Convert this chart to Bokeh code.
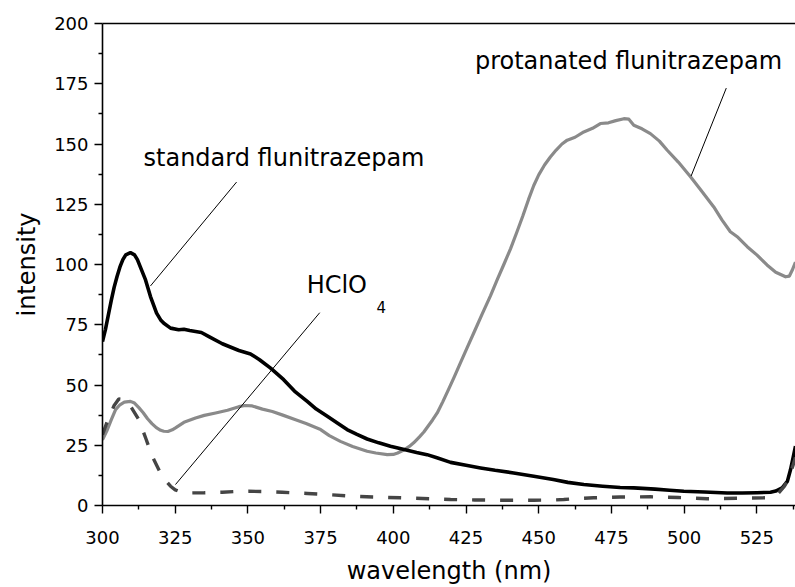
from bokeh.plotting import figure
from bokeh.models import Range1d, LinearAxis, FixedTicker
from bokeh.core.properties import value
from bokeh.embed import file_html
from bokeh.resources import INLINE

# Emission spectra: wavelength (nm) vs. intensity
std_wl = [300, 301, 302, 303, 304, 305, 306, 307, 308, 309.6, 311, 312, 313, 314.8, 316.5,
          318.6, 320, 321.1, 323.4, 326.2, 328, 330,
          332, 334, 336.6, 341.2, 346.9, 350.9, 354, 357.8, 362.3, 366, 370.4, 373.5, 377.3,
          381, 384.1, 387.5, 391, 395, 399, 404.8, 408, 411.6, 415, 419.7, 425, 430, 435,
          441.4, 448.3, 455, 460, 465.5, 472, 478, 482.7, 490, 495, 499.9, 507, 514.8, 520,
          525, 529.7, 531.5, 533.7, 535.5, 536.6, 537.5, 538.3]
std_int = [68, 73, 79, 85, 90.5, 95, 99, 102, 104, 104.9, 104, 102, 99, 93.6, 86.7,
           79.8, 77, 75.6, 73.6, 72.9, 73.1, 72.6,
           72.2, 71.8, 70.1, 67.1, 64.3, 62.9, 60.5, 57.0, 52.2, 47.5, 43.2, 40.0, 37.0,
           34.0, 31.5, 29.5, 27.6, 26.0, 24.6, 22.9, 22.0, 21.1, 19.8, 17.9, 16.7, 15.6, 14.6,
           13.5, 12.1, 10.8, 9.6, 8.7, 8.0, 7.5, 7.3, 6.8, 6.3, 5.9, 5.6, 5.2, 5.2,
           5.3, 5.5, 6.0, 7.3, 10.0, 14.9, 20.0, 24.6]

prot_wl = [300, 301.5, 303, 304.5, 306, 307.5, 309.6, 311, 312.5, 314, 315.5, 317, 318.5, 320,
           321.1, 322.5, 324, 325.1, 328, 332, 335,
           338.9, 343, 346.9, 349, 351.5, 355, 358.4, 362, 366.4, 370, 375, 378, 381.8, 386,
           391, 394, 397.9, 400, 401.5, 403.6, 405.5, 407, 409, 410.5, 412, 413.5, 415.1,
           417, 419, 421, 423, 425.4, 428, 430.5, 433.4, 435.7, 438, 440.3, 442.5,
           444.5, 446.5, 448.3, 450, 452, 454, 456, 458, 459.8, 462.5, 465.5, 468.5, 471.2,
           474, 476.5, 479.3, 481, 482.7, 485.5, 488.4, 491.5, 494.2, 498, 502.2, 506, 510.2,
           513, 515.9, 518.5, 521.7, 525, 528.5, 531.5, 534.9, 536.2, 537.2, 538.3]
prot_int = [27.3, 31, 35.5, 39.8, 41.8, 42.9, 43.2, 42.5, 40.6, 38.5, 36, 34, 32.3, 31.2,
            30.8, 30.7, 31.4, 32.2, 34.5, 36.3, 37.4,
            38.4, 39.5, 41.0, 41.5, 41.3, 40.0, 39.0, 37.5, 35.6, 34.0, 31.5, 29.0, 26.6, 24.5,
            22.5, 21.8, 21.1, 21.2, 21.8, 23.0, 24.5, 26, 28.5, 30.5, 33, 35.5, 38.4,
            43, 48.2, 53.5, 59, 65.5, 72.5, 79.3, 87, 93.6, 100, 106.5, 113.5,
            120, 127, 132.8, 137.2, 141.3, 144.6, 147.5, 150, 151.6, 152.8, 155.0, 156.5, 158.5,
            158.8, 159.7, 160.5, 160.3, 157.8, 156.3, 154.3, 151.2, 147.4, 142.5, 136.4, 130.5, 123.9,
            118.5, 113.6, 111.3, 107.4, 104, 99.8, 96.8, 94.9, 95.2, 97.7, 101]

acid_wl = [300, 302, 304, 305.6, 307.9, 310, 312.5, 315, 317.1, 320.5, 323.4, 325, 327, 329.7,
           335, 341.2, 346, 350.3, 355, 361.8, 370.4, 378, 385.3, 393, 402.5, 410, 419.7, 428,
           436.9, 448.3, 455, 458.6, 463, 468.9, 478, 488.4, 498, 507.9, 518, 528.5, 532, 534.5,
           536.5, 538.3]
acid_int = [29.4, 36, 41.5, 44.2, 43.9, 40.5, 35.6, 27.5, 20.4, 12.1, 8.0, 6.5, 5.6, 5.2,
            5.3, 5.5, 5.8, 5.9, 5.8, 5.5, 5.0, 4.5, 3.9, 3.5, 3.2, 2.9, 2.5, 2.3,
            2.2, 2.2, 2.3, 2.5, 2.9, 3.2, 3.5, 3.6, 3.3, 2.8, 3.0, 3.2, 4.5, 8.0,
            13.0, 20.0]

x_ticks = [300, 325, 350, 375, 400, 425, 450, 475, 500, 525]
y_ticks = [0, 25, 50, 75, 100, 125, 150, 175, 200]

FONT = "DejaVu Sans"

p = figure(width=795, height=587, output_backend="svg", toolbar_location=None,
           x_range=Range1d(300, 538.3), y_range=Range1d(0, 200),
           min_border_left=102, min_border_right=0, min_border_top=23, min_border_bottom=81)
p.background_fill_color = "white"
p.border_fill_color = "white"
p.outline_line_color = None
p.grid.visible = False

# curves
p.line(prot_wl, prot_int, line_color="#8a8a8a", line_width=3.2, line_join="round")
p.line(std_wl, std_int, line_color="black", line_width=3.6, line_join="round")
p.line(acid_wl, acid_int, line_color="#454545", line_width=3.4, line_dash="13 15")

# leader lines from labels to curves
p.segment(x0=[346.1, 374.7, 514.5], y0=[134.2, 80.0, 173.2],
          x1=[316.5, 325.1, 502.4], y1=[91.1, 8.7, 136.7],
          line_color="black", line_width=1)

p.text(x=[314.1], y=[144.1], text=["standard flunitrazepam"], text_font=value(FONT),
       text_font_size="24px", text_color="black", text_baseline="alphabetic")
p.text(x=[370.2], y=[91.5], text=["HClO"], text_font=value(FONT),
       text_font_size="24px", text_color="black", text_baseline="alphabetic")
p.text(x=[394.2], y=[82.2], text=["4"], text_font=value(FONT),
       text_font_size="15px", text_color="black", text_baseline="alphabetic")
p.text(x=[533.7], y=[184.6], text=["protanated flunitrazepam"], text_font=value(FONT),
       text_font_size="24px", text_color="black", text_baseline="alphabetic",
       text_align="right")

# axes
for ax in (p.xaxis[0], p.yaxis[0]):
    ax.axis_line_width = 1.6
    ax.major_tick_line_width = 1.4
    ax.minor_tick_line_width = 1.4
    ax.major_tick_out = 8
    ax.major_tick_in = 0
    ax.minor_tick_out = 4
    ax.minor_tick_in = 0
    ax.major_label_text_font = FONT
    ax.major_label_text_font_size = "18px"
    ax.major_label_text_color = "black"
    ax.axis_label_text_font = FONT
    ax.axis_label_text_font_size = "24px"
    ax.axis_label_text_font_style = "normal"
    ax.axis_label_text_color = "black"

p.xaxis.ticker = FixedTicker(ticks=x_ticks,
                             minor_ticks=[t + 12.5 for t in x_ticks])
p.yaxis.ticker = FixedTicker(ticks=y_ticks,
                             minor_ticks=[t + 12.5 for t in y_ticks[:-1]])
p.xaxis.axis_label = "wavelength (nm)"
p.yaxis.axis_label = "intensity"
p.xaxis.major_label_standoff = 17
p.yaxis.major_label_standoff = 6
p.xaxis.axis_label_standoff = 10
p.yaxis.axis_label_standoff = 10

top = LinearAxis(ticker=FixedTicker(ticks=[]), major_label_text_font_size="0px",
                 major_tick_out=0, major_tick_in=0, minor_tick_out=0, minor_tick_in=0,
                 axis_line_width=1.6, major_label_standoff=0)
p.add_layout(top, "above")

open("out.html", "w").write(file_html(p, INLINE))
